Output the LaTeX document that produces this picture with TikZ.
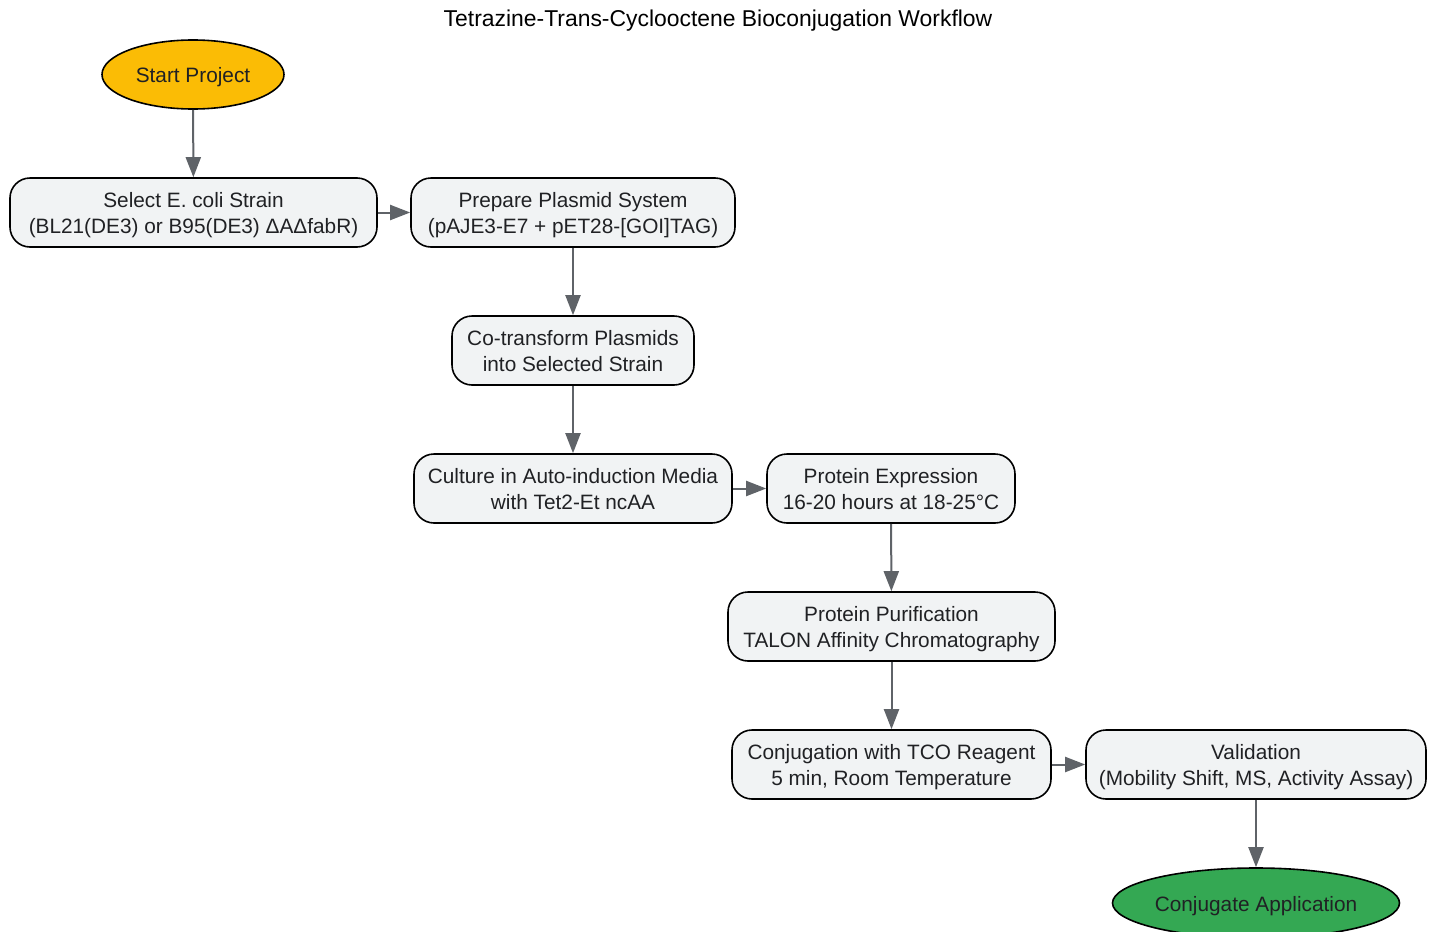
\documentclass[tikz,border=0pt]{standalone}
\usepackage{fontspec}
\setmainfont{Liberation Sans}
\usetikzlibrary{arrows.meta,shapes.geometric}
\definecolor{boxfill}{HTML}{F1F3F4}
\definecolor{txt}{HTML}{202124}
\definecolor{arr}{HTML}{5F6368}
\definecolor{startc}{HTML}{FBBC05}
\definecolor{endc}{HTML}{34A853}
\newcommand{\topstrut}{\rule{0pt}{21pt}}
\newcommand{\botstrut}{\rule[-5pt]{0pt}{5pt}}
\tikzset{
  stepbox/.style={draw=black, line width=1.6pt, fill=boxfill, rounded corners=20pt,
    inner sep=0pt, align=center, text=txt, font=\fontsize{20.8}{26}\selectfont},
  termnode/.style={draw=black, line width=1.6pt, ellipse, inner sep=0pt,
    text=txt, font=\fontsize{20.8}{26}\selectfont,
    execute at begin node={\rule[-5pt]{0pt}{26.6pt}}},
  flow/.style={draw=arr, line width=2pt, -{Triangle[length=20pt,width=15pt]}}
}
\begin{document}
\begin{tikzpicture}[x=1pt,y=-1pt]
\useasboundingbox (0,0) rectangle (1436,932);
\node[font=\fontsize{22.9}{28}\selectfont, text=black, inner sep=0pt,
  execute at begin node={\rule[-5.5pt]{0pt}{22pt}}] (title) at (718,21) {Tetrazine-Trans-Cyclooctene Bioconjugation Workflow};
\node[termnode, fill=startc, minimum width=182pt, minimum height=69pt] (start) at (193,74.5) {Start Project};
\node[stepbox, minimum width=367pt, minimum height=69pt] (select) at (193.5,212.5) {\topstrut Select E. coli Strain\\(BL21(DE3) or B95(DE3) ΔAΔfabR)\botstrut};
\node[stepbox, minimum width=324pt, minimum height=69pt] (prep) at (573,212.5) {\topstrut Prepare Plasmid System\\(pAJE3-E7 + pET28-[GOI]TAG)\botstrut};
\node[stepbox, minimum width=242pt, minimum height=69pt] (cotr) at (573,350.5) {\topstrut Co-transform Plasmids\\into Selected Strain\botstrut};
\node[stepbox, minimum width=318pt, minimum height=69pt] (cult) at (573,488.5) {\topstrut Culture in Auto-induction Media\\with Tet2-Et ncAA\botstrut};
\node[stepbox, minimum width=248pt, minimum height=69pt] (expr) at (891,488.5) {\topstrut Protein Expression\\16-20 hours at 18-25°C\botstrut};
\node[stepbox, minimum width=327pt, minimum height=69pt] (puri) at (891.5,626.5) {\topstrut Protein Purification\\TALON Affinity Chromatography\botstrut};
\node[stepbox, minimum width=319pt, minimum height=69pt] (conj) at (891.5,764.5) {\topstrut Conjugation with TCO Reagent\\5 min, Room Temperature\botstrut};
\node[stepbox, minimum width=340pt, minimum height=69pt] (vali) at (1256,764.5) {\topstrut Validation\\(Mobility Shift, MS, Activity Assay)\botstrut};
\node[termnode, fill=endc, minimum width=287pt, minimum height=70pt] (endn) at (1256,903) {Conjugate Application};
\draw[flow] (start) -- (select);
\draw[flow] (select) -- (prep);
\draw[flow] (prep) -- (cotr);
\draw[flow] (cotr) -- (cult);
\draw[flow] (cult) -- (expr);
\draw[flow] (expr) -- (puri);
\draw[flow] (puri) -- (conj);
\draw[flow] (conj) -- (vali);
\draw[flow] (vali) -- (endn);
\end{tikzpicture}
\end{document}
